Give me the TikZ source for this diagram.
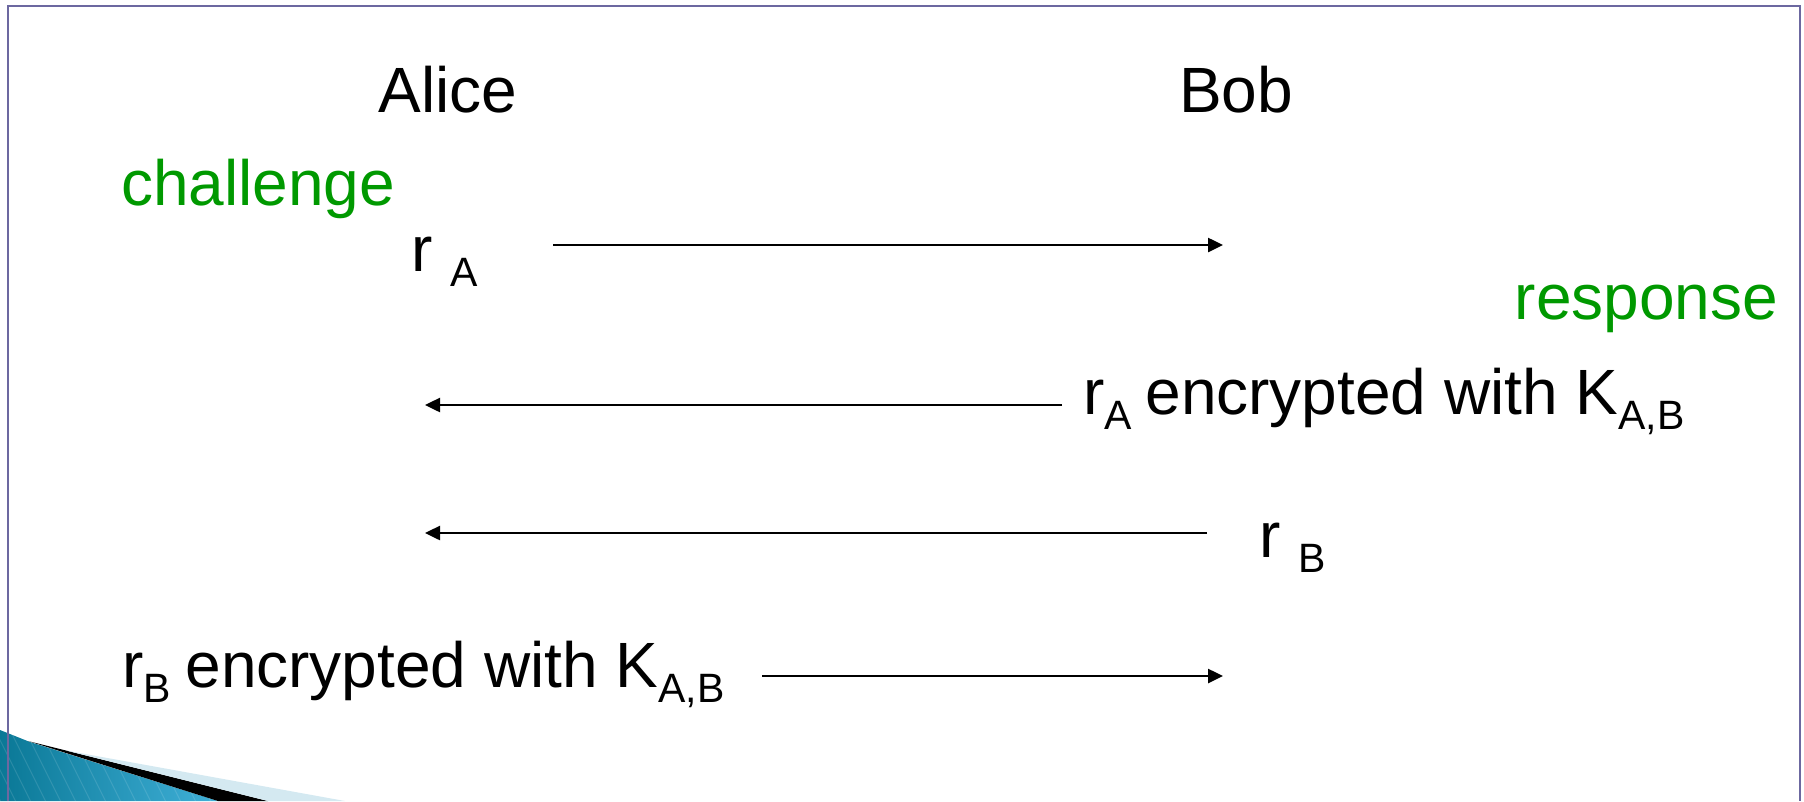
\documentclass[tikz,border=0pt]{standalone}
\usepackage{fontspec}
\setmainfont{Liberation Sans}
\usetikzlibrary{arrows.meta}
\definecolor{framec}{RGB}{108,104,160}
\definecolor{greenc}{RGB}{0,153,0}
\definecolor{tealL}{RGB}{10,120,150}
\definecolor{tealR}{RGB}{64,176,216}
\definecolor{paleblue}{RGB}{212,233,241}
\newcommand{\lowsub}[1]{\raisebox{-15pt}{\fontsize{41pt}{44pt}\selectfont #1}}
\begin{document}
\begin{tikzpicture}[x=1pt,y=-1pt,
  txt/.style={inner sep=0pt, outer sep=0pt, font=\fontsize{64pt}{70pt}\selectfont},
  greentxt/.style={text=greenc},
  msg/.style={line width=2.5pt, -{Triangle[length=15pt,width=14pt]}}]
\useasboundingbox (0,0) rectangle (1804,801);
% bottom-left decoration
\shade[left color=tealL, right color=tealR] (0,730) -- (30,742) -- (218,801) -- (0,801) -- cycle;
\begin{scope}
  \clip (0,730) -- (30,742) -- (218,801) -- (0,801) -- cycle;
  \foreach \i in {-100,-85,...,260} \draw[white, opacity=0.12, line width=1pt] (\i,720) -- (\i+45,810);
\end{scope}
\fill[black] (28,741) -- (268,801) -- (218,801) -- cycle;
\fill[paleblue] (66,750.5) -- (345,801) -- (268,801) -- cycle;
% frame
\draw[framec, line width=2.4pt] (8,801) -- (8,6) -- (1800,6) -- (1800,801);
% texts
\node[txt, anchor=base] (alice) at (448,112) {Alice};
\node[txt, anchor=base] (bob) at (1236,112) {Bob};
\node[txt, greentxt, anchor=base west] (chal) at (121,205) {challenge};
\node[txt, anchor=base west] (ra) at (411,271) {r \lowsub{A}};
\node[txt, greentxt, anchor=base east] (resp) at (1778,319) {response};
\node[txt, anchor=base west] (enca) at (1083,414) {r\lowsub{A}\hspace{-4pt} encrypted with K\lowsub{A,B}};
\node[txt, anchor=base west] (rb) at (1259,557) {r \lowsub{B}};
\node[txt, anchor=base west] (encb) at (122,687) {r\lowsub{B}\hspace{-3pt} encrypted with K\lowsub{A,B}};
% arrow ends
\coordinate (m1s) at (553,245); \coordinate (m1e) at (1223,245);
\coordinate (m2s) at (1062,405); \coordinate (m2e) at (425,405);
\coordinate (m3s) at (1207,533); \coordinate (m3e) at (425,533);
\coordinate (m4s) at (762,676); \coordinate (m4e) at (1223,676);
\draw[msg] (m1s) -- (m1e);
\draw[msg] (m2s) -- (m2e);
\draw[msg] (m3s) -- (m3e);
\draw[msg] (m4s) -- (m4e);
\end{tikzpicture}
\end{document}
